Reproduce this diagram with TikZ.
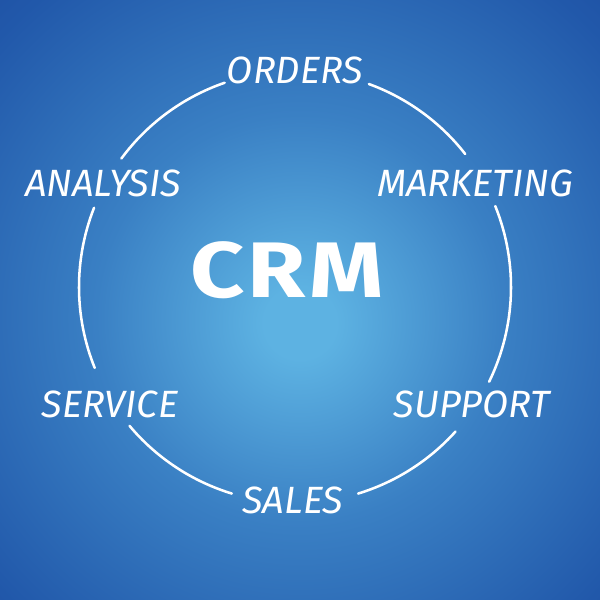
\documentclass[tikz,border=0pt]{standalone}
\usepackage{fontspec}
\setmainfont{Fira Sans}
\newfontfamily\hubfont[FakeStretch=1.2,LetterSpace=4]{Fira Sans}
\definecolor{glowc}{HTML}{5DB2E2}
\definecolor{midc}{HTML}{3A80C4}
\definecolor{edgec}{HTML}{2158AA}
\definecolor{cornerc}{HTML}{1A3F94}
\pgfdeclareradialshading{crmglow}{\pgfpoint{0bp}{-2bp}}{%
  color(0bp)=(glowc); color(3bp)=(glowc); color(17bp)=(midc);
  color(34bp)=(edgec); color(50bp)=(cornerc); color(72bp)=(cornerc)}
\tikzset{
  ring/.style={white,line width=1.8pt,line cap=round},
  area/.style={text=white,font=\itshape\fontsize{27}{27}\selectfont,inner sep=0pt},
  hub/.style={text=white,font=\hubfont\bfseries\fontsize{56}{56}\selectfont,inner sep=0pt}
}

\begin{document}
\begin{tikzpicture}[x=0.025cm,y=0.025cm]

% Background glow
\shade[shading=crmglow] (0,0) rectangle (600,600);
\useasboundingbox (0,0) rectangle (600,600);

% Centre of the ring
\coordinate (ctr) at (295,313);

% Hub
\node[hub] (crm) at (287,330) {CRM};

% Areas round the ring
\node[area] (orders)    at (295,530) {ORDERS};
\node[area] (marketing) at (475,417) {MARKETING};
\node[area] (support)   at (472,196) {SUPPORT};
\node[area] (sales)     at (293,100) {SALES};
\node[area] (service)   at (110,196) {SERVICE};
\node[area] (analysis)  at (103,417) {ANALYSIS};

% Ring pieces between the areas
\foreach \a/\b in {70/38, 22/-26, -42/-73, -107/-140, -158/-201.5, 143.5/109}
{
  \draw[ring] ([shift={(\a:216)}]ctr) arc[start angle=\a, end angle=\b, radius=5.4cm];
}

\end{tikzpicture}
\end{document}
